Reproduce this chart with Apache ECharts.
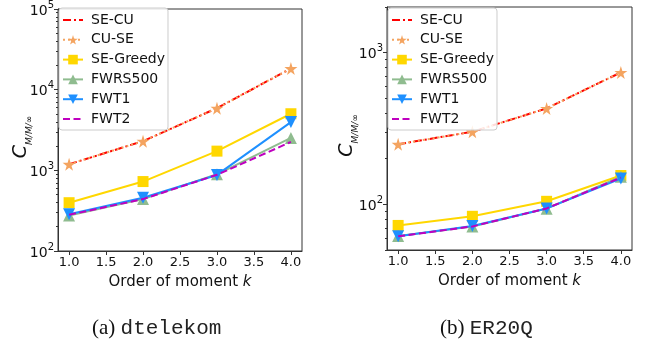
<!DOCTYPE html>
<html><head><meta charset="utf-8">
<script src="https://cdn.jsdelivr.net/npm/echarts@6/dist/echarts.min.js"></script>
<style>html,body{margin:0;padding:0;background:#fff}#c{width:650px;height:345px}</style>
</head><body><div id="c"></div>
<script>
// ---- data ----
const kValues = [1, 2, 3, 4];
const xTicks = [1.0, 1.5, 2.0, 2.5, 3.0, 3.5, 4.0];
const seriesNames = ['SE-CU', 'CU-SE', 'SE-Greedy', 'FWRS500', 'FWT1', 'FWT2'];

// (a) dtelekom
const a_SECU     = [1190, 2300, 5900, 18300];
const a_CUSE     = [1190, 2300, 5900, 18300];
const a_SEGreedy = [397, 726, 1730, 5030];
const a_FWRS500  = [275, 440, 893, 2520];
const a_FWT1     = [286, 458, 877, 3960];
const a_FWT2     = [281, 440, 880, 2250];
const a_yTicks   = [100, 1000, 10000, 100000];
const a_yMinor   = [200,300,400,500,600,700,800,900,2000,3000,4000,5000,6000,7000,8000,9000,20000,30000,40000,50000,60000,70000,80000,90000];

// (b) ER20Q
const b_SECU     = [249, 301, 429, 741];
const b_CUSE     = [249, 301, 429, 741];
const b_SEGreedy = [72.6, 83.4, 104.7, 155];
const b_FWRS500  = [61.8, 71.3, 93.7, 152];
const b_FWT1     = [61.5, 72, 94, 148];
const b_FWT2     = [61.5, 71.5, 94, 150];
const b_yTicks   = [100, 1000];
const b_yMinor   = [50,60,70,80,90,200,300,400,500,600,700,800,900,2000];

const captions = [['(a) ', 'dtelekom'], ['(b) ', 'ER20Q']];

// ---- styling ----
const FONT = 'DejaVu Sans';
const AX = '#333';
const star = 'path://M50,0 L61,35 L98,35 L68,57 L79,91 L50,70 L21,91 L32,57 L2,35 L39,35 Z';
const triDown = 'path://M0,0 L10,0 L5,9 Z';
const styles = {
  'SE-CU':     {color:'#ff0000', type:[8,3,2,3], symbol:'none', size:0},
  'CU-SE':     {color:'#f4a460', type:[2,3], symbol:star, size:13},
  'SE-Greedy': {color:'#ffd700', type:'solid', symbol:'rect', size:11},
  'FWRS500':   {color:'#8fbc8f', type:'solid', symbol:'triangle', size:12},
  'FWT1':      {color:'#1e90ff', type:'solid', symbol:triDown, size:12},
  'FWT2':      {color:'#bf00bf', type:[7,3.5], symbol:'none', size:0}
};
const sets = [
  [a_SECU, a_CUSE, a_SEGreedy, a_FWRS500, a_FWT1, a_FWT2],
  [b_SECU, b_CUSE, b_SEGreedy, b_FWRS500, b_FWT1, b_FWT2]
];
const grids = [
  {left:58, top:7, width:244, height:244},
  {left:387, top:7, width:245, height:243}
];
const yRanges = [[100, 100000], [50, 2000]];
const yTickSets = [a_yTicks, b_yTicks];
const yMinorSets = [a_yMinor, b_yMinor];

const xAxes = [], yAxes = [], series = [], legends = [], graphics = [];
grids.forEach((g, i) => {
  Object.assign(g, {show:true, borderColor:AX, borderWidth:1, containLabel:false});
  xAxes.push({
    type:'value', gridIndex:i, min:0.85, max:4.15,
    axisLine:{show:true, lineStyle:{color:AX}},
    axisTick:{show:true, length:4, inside:false, customValues:xTicks, lineStyle:{color:AX}},
    axisLabel:{customValues:xTicks, formatter:v => v.toFixed(1), fontFamily:FONT, fontSize:13, color:'#111', margin:5},
    splitLine:{show:false},
    name:'{t|Order of moment }{k|k}', nameLocation:'middle', nameGap:24, nameMoveOverlap:false,
    nameTextStyle:{rich:{t:{fontFamily:FONT, fontSize:15, color:'#111'}, k:{fontFamily:FONT, fontSize:15, fontStyle:'italic', color:'#111'}}}
  });
  yAxes.push({
    type:'log', logBase:10, gridIndex:i, min:yRanges[i][0], max:yRanges[i][1],
    axisLine:{show:true, lineStyle:{color:AX}},
    axisTick:{show:true, length:4, customValues:yTickSets[i], lineStyle:{color:AX}},
    axisLabel:{customValues:yTickSets[i], fontFamily:FONT, color:'#111', margin:4,
      formatter:v => '{b|10}{e|' + Math.round(Math.log10(v)) + '}',
      rich:{b:{fontSize:14, fontFamily:FONT, color:'#111', verticalAlign:'bottom', lineHeight:18}, e:{fontSize:10, fontFamily:FONT, color:'#111', verticalAlign:'top', lineHeight:18}}},
    splitLine:{show:false},
    name:'{c|C}{s|M/M/∞}', nameLocation:'middle', nameGap: i === 0 ? 24 : 27, nameRotate:90, nameMoveOverlap:false,
    nameTextStyle:{padding:[0,14,0,0], rich:{
      c:{fontFamily:FONT, fontSize:19, fontStyle:'italic', color:'#111', verticalAlign:'top', lineHeight:22},
      s:{fontFamily:FONT, fontSize:9, fontStyle:'italic', color:'#111', verticalAlign:'bottom', lineHeight:22, padding:[6,0,0,0]}}}
  });
  // minor ticks axis
  yAxes.push({
    type:'log', logBase:10, gridIndex:i, min:yRanges[i][0], max:yRanges[i][1], position:'left',
    axisLine:{show:false}, axisLabel:{show:false}, splitLine:{show:false},
    axisTick:{show:true, length:2, customValues:yMinorSets[i], lineStyle:{color:AX}}
  });
  seriesNames.forEach((n, j) => {
    const s = styles[n];
    series.push({
      name:n, type:'line', xAxisIndex:i, yAxisIndex:i*2,
      data:kValues.map((k, t) => [k, sets[i][j][t]]),
      symbol:s.symbol === 'none' ? 'circle' : s.symbol, symbolSize:s.size, showSymbol:s.symbol !== 'none',
      lineStyle:{color:s.color, width:2, type:s.type},
      itemStyle:{color:s.color},
      animation:false, z:2+j
    });
  });
  legends.push({
    data:seriesNames.map(n => styles[n].symbol === 'none'
      ? {name:n, itemStyle:{opacity:0}, lineStyle:{type:styles[n].type, width:2}}
      : {name:n}),
    orient:'vertical', left:g.left + 1, top:g.top + 1,
    itemWidth:20, itemHeight:12, itemGap:5.8, padding:[5,3,4,3],
    backgroundColor:'rgba(255,255,255,0.85)', borderColor:'#cccccc', borderWidth:1, borderRadius:3,
    textStyle:{fontFamily:FONT, fontSize:14, color:'#111', padding:[0,0,0,3]},
    selectedMode:false
  });
});
// captions
const capLeft = [92, 440];
captions.forEach((c, i) => {
  graphics.push({
    type:'text', left:capLeft[i], top:318,
    style:{
      text:'{p|' + c[0] + '}{m|' + c[1] + '}',
      rich:{p:{fontFamily:'Liberation Serif', fontSize:21, fill:'#111'}, m:{fontFamily:'Liberation Mono', fontSize:21, fill:'#222'}}
    }
  });
});

const chart = echarts.init(document.getElementById('c'), null, {renderer:'canvas'});
chart.setOption({
  animation:false,
  backgroundColor:'#fff',
  grid:grids, xAxis:xAxes, yAxis:yAxes, series:series, legend:legends, graphic:graphics
});
</script></body></html>
